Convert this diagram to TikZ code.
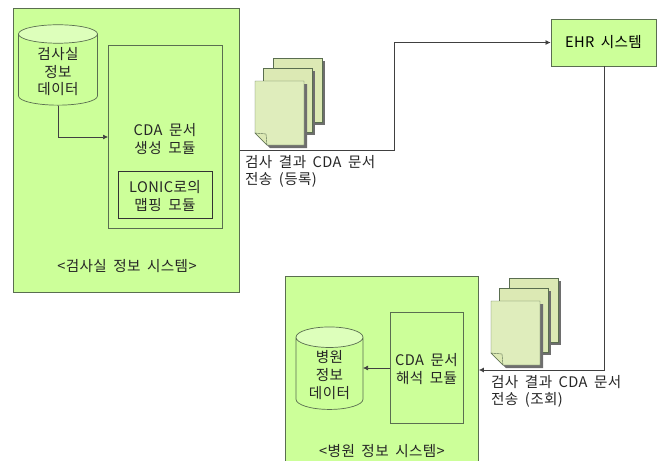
\documentclass[tikz,border=0pt]{standalone}
\usepackage{fontspec}
\setmainfont{Noto Sans CJK KR}[WordSpace=1.8,LetterSpace=2.5]
\usetikzlibrary{shapes.geometric,arrows.meta}
\definecolor{boxGreen}{HTML}{CCFF99}
\definecolor{topGreen}{HTML}{DDFFBB}
\definecolor{boxLine}{HTML}{5A6E50}
\definecolor{docBack}{HTML}{DCE9B4}
\definecolor{docFront}{HTML}{DFEDBC}
\definecolor{docShadow}{HTML}{6E6E6E}
\newcommand{\docSheet}[3]{% left, top, fill
  \fill[docShadow] (#1+3,#2+3) rectangle (#1+52,#2+67);
  \draw[boxLine,fill=#3] (#1,#2) rectangle (#1+49,#2+64);
}
\newcommand{\docStack}[2]{% left, top of the back sheet
  \docSheet{#1}{#2}{docBack}
  \docSheet{#1-10}{#2+10}{docBack}
  \fill[docShadow] (#1-15,#2+26) -- (#1+34,#2+26) -- (#1+34,#2+90) -- (#1-3,#2+90) -- (#1-15,#2+78) -- cycle;
  \draw[boxLine,fill=docFront] (#1-18,#2+23) -- (#1+31,#2+23) -- (#1+31,#2+87) -- (#1-6,#2+87) -- (#1-18,#2+75) -- cycle;
  \draw[boxLine,fill=docBack] (#1-18,#2+75) -- (#1-7,#2+76) -- (#1-6,#2+87) -- cycle;
}
\begin{document}
\begin{tikzpicture}[x=1pt,y=-1pt,font=\fontsize{14.6pt}{17.6pt}\selectfont]
  \tikzstyle{systemStyle}=[draw=boxLine,line width=0.9pt,fill=boxGreen,anchor=north west,inner sep=0pt]
  \tikzstyle{moduleStyle}=[draw=boxLine,line width=0.8pt,anchor=north west,inner sep=0pt,align=center]
  \tikzstyle{dbStyle}=[draw=boxLine,line width=0.7pt,cylinder,shape border rotate=90,cylinder uses custom fill,cylinder body fill=boxGreen,cylinder end fill=topGreen,inner sep=0pt,align=center,text=black!85]
  \tikzstyle{centerText}=[inner sep=0pt,align=center,text=black!85]
  \tikzstyle{textStyle}=[inner sep=0pt,align=left,anchor=north west,text=black!85]
  \tikzstyle{link}=[draw=black!75,line width=0.7pt,-{Latex[length=5pt,width=5pt]}]

  \useasboundingbox (0,0) rectangle (665,461);

  % first system
  \node[systemStyle,minimum width=226pt,minimum height=284pt](labSystem) at (13,8) {};
  \node[centerText](labTitle) at (127,266) {<검사실 정보 시스템>};
  \node[dbStyle,minimum width=79pt,minimum height=64.5pt,aspect=0.45](labData) at (58,69.75) {\rule{0pt}{16pt}검사실\\정보\\데이터};
  \node[moduleStyle,minimum width=114pt,minimum height=183pt](makeModule) at (108,45) {};
  \node[centerText](makeText) at (165,139) {CDA 문서\\생성 모듈};
  \node[moduleStyle,draw=black!80,minimum width=94pt,minimum height=47pt](mapModule) at (118,171) {};
  \node[centerText](mapText) at (165,196) {LONIC로의\\맵핑 모듈};
  \coordinate (makeIn) at (108,137);
  \draw[link] (labData.south) |- (makeIn);

  % second system
  \node[systemStyle,minimum width=193pt,minimum height=186pt](hospSystem) at (285,276) {};
  \node[centerText](hospTitle) at (382,451) {<병원 정보 시스템>};
  \node[moduleStyle,minimum width=73pt,minimum height=111pt](readModule) at (390,312) {};
  \node[centerText](readText) at (426.5,369) {CDA 문서\\해석 모듈};
  \node[dbStyle,minimum width=67pt,minimum height=64pt,aspect=0.5](hospData) at (329.5,373.5) {\rule{0pt}{15pt}병원\\정보\\데이터};
  \coordinate (hospIn) at (363,368);
  \draw[link] (readModule.west |- hospIn) -- (hospIn);

  \node[systemStyle,minimum width=105pt,minimum height=47pt,anchor=center](ehrSystem) at (603.5,42.5) {EHR 시스템};

  % documents
  \docStack{273}{58}
  \docStack{509}{278}

  \node[textStyle](sendText) at (245,155) {검사 결과 CDA 문서\\전송 (등록)};
  \node[textStyle](queryText) at (491,375) {검사 결과 CDA 문서\\전송 (조회)};

  \coordinate (sendBend) at (394,150);
  \coordinate (queryBend) at (604,370);
  \draw[link] (labSystem.east |- sendBend) -- (sendBend) |- (ehrSystem.west);
  \draw[link] (ehrSystem.south -| queryBend) -- (queryBend) -- (hospSystem.east |- queryBend);
\end{tikzpicture}
\end{document}
